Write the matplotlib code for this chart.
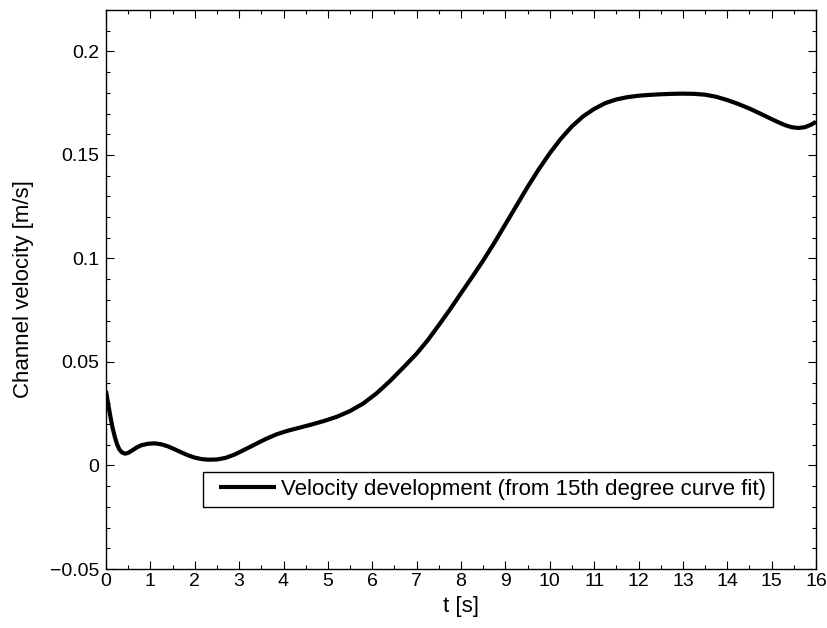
import matplotlib
matplotlib.use("Agg")
import numpy as np
import matplotlib.pyplot as plt
from matplotlib.ticker import MultipleLocator
from matplotlib.legend_handler import HandlerLine2D

plt.rcParams['font.family'] = ['Liberation Sans', 'DejaVu Sans']

# Channel velocity from the 15th degree polynomial fit
t_s = [0.0, 0.05, 0.1, 0.15, 0.2, 0.25, 0.3, 0.36, 0.43, 0.5, 0.6, 0.7, 0.8, 0.95,
       1.1, 1.25, 1.4, 1.55, 1.7, 1.85, 2.0, 2.15, 2.3, 2.5, 2.7, 2.9, 3.1, 3.35,
       3.6, 3.85, 4.1, 4.35, 4.6, 4.9, 5.2, 5.5, 5.8, 6.1, 6.4, 6.7, 7.0, 7.25,
       7.5, 7.75, 8.0, 8.25, 8.5, 8.75, 9.0, 9.25, 9.5, 9.75, 10.0, 10.25, 10.5,
       10.75, 11.0, 11.25, 11.5, 11.75, 12.0, 12.25, 12.5, 12.75, 13.0, 13.25,
       13.5, 13.75, 14.0, 14.25, 14.5, 14.75, 15.0, 15.15, 15.3, 15.45, 15.6,
       15.75, 15.9, 16.0]
velocity = [0.036, 0.0295, 0.0235, 0.018, 0.0137, 0.0102, 0.0078, 0.0063, 0.0057,
            0.0061, 0.0074, 0.0088, 0.0098, 0.0105, 0.0107, 0.0102, 0.0092, 0.0078,
            0.0063, 0.0049, 0.0038, 0.0031, 0.0028, 0.0029, 0.0037, 0.0053, 0.0074,
            0.0101, 0.0128, 0.0151, 0.0168, 0.0182, 0.0196, 0.0214, 0.0235, 0.0263,
            0.0300, 0.0349, 0.0408, 0.0473, 0.0540, 0.0605, 0.0678, 0.0753, 0.0832,
            0.0910, 0.0990, 0.1075, 0.1165, 0.1255, 0.1345, 0.1430, 0.1508, 0.1578,
            0.1638, 0.1686, 0.1722, 0.1750, 0.1768, 0.1779, 0.1786, 0.1790, 0.1793,
            0.1795, 0.1796, 0.1795, 0.1791, 0.1781, 0.1765, 0.1746, 0.1724, 0.1699,
            0.1673, 0.1658, 0.1644, 0.1634, 0.1630, 0.1634, 0.1647, 0.1660]

x_ticks = list(range(0, 17))
y_ticks = [-0.05, 0.0, 0.05, 0.1, 0.15, 0.2]
y_tick_labels = ['\u22120.05', '0', '0.05', '0.1', '0.15', '0.2']


class InsetLineHandler(HandlerLine2D):
    """Legend line that leaves a small gap before the sample line."""

    def get_xdata(self, legend, xdescent, ydescent, width, height, fontsize):
        xd, xm = super().get_xdata(legend, xdescent, ydescent, width, height, fontsize)
        xd = np.asarray(xd, dtype=float)
        lead = 0.14 * width
        return np.array([xd.min() + lead, xd.max()]), xm


fig = plt.figure(figsize=(8.27, 6.28), dpi=100)
ax = fig.add_axes([106 / 827, 1 - 569 / 628, 710 / 827, 559 / 628])

line, = ax.plot(t_s, velocity, color='black', linewidth=3.0, solid_joinstyle='round',
                solid_capstyle='butt',
                label='Velocity development (from 15th degree curve fit)')

ax.set_xlim(0, 16)
ax.set_ylim(-0.05, 0.22)
ax.set_xticks(x_ticks)
ax.set_xticklabels([str(v) for v in x_ticks])
ax.set_yticks(y_ticks)
ax.set_yticklabels(y_tick_labels)
ax.xaxis.set_minor_locator(MultipleLocator(0.5))
ax.yaxis.set_minor_locator(MultipleLocator(0.01))

ax.tick_params(which='both', direction='in', top=True, right=True,
               labelsize=14, width=0.8)
ax.tick_params(axis='x', which='major', pad=3)
ax.tick_params(axis='y', which='major', pad=5)
ax.tick_params(which='major', length=6)
ax.tick_params(which='minor', length=3)
for sp in ax.spines.values():
    sp.set_linewidth(1.0)

ax.set_xlabel('t [s]', fontsize=16, labelpad=4)
ax.set_ylabel('Channel velocity [m/s]', fontsize=16, labelpad=11)

leg = ax.legend(handles=[line], loc='lower left',
                bbox_to_anchor=((203 - 106) / 710, (569 - 507) / 559),
                borderaxespad=0, fontsize=16, fancybox=False, framealpha=1,
                edgecolor='black', handlelength=2.97, handletextpad=0.2,
                borderpad=0.32, handler_map={line: InsetLineHandler()})
leg.get_frame().set_linewidth(1.0)

fig.savefig('out.png', dpi=100, facecolor='white')
